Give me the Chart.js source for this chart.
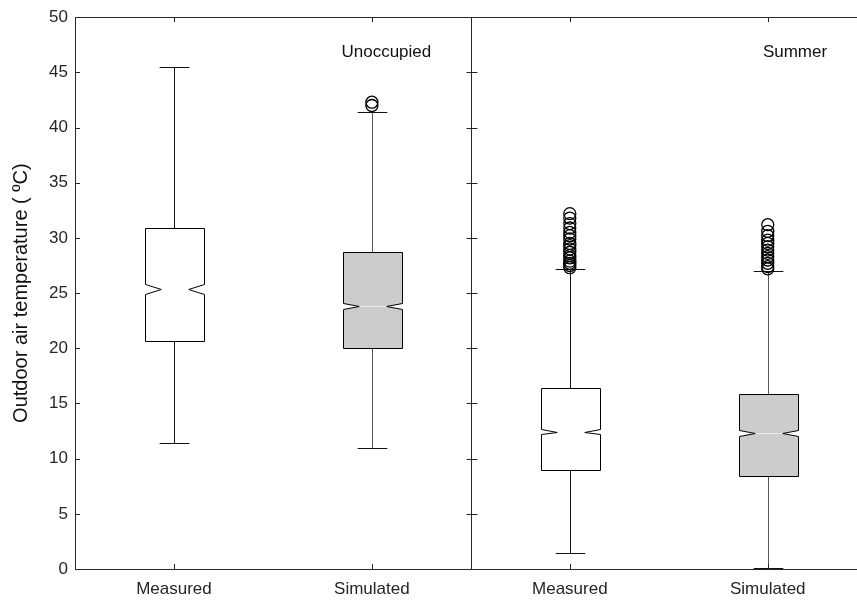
<!DOCTYPE html>
<html>
<head>
<meta charset="utf-8">
<script src="https://cdn.jsdelivr.net/npm/chart.js@4.4.1/dist/chart.umd.min.js"></script>
<style>
html,body{margin:0;padding:0;background:#fff;overflow:hidden}
#wrap{width:874px;height:602px}
</style>
</head>
<body>
<div id="wrap"><canvas id="graph" width="874" height="602"></canvas></div>
<script>
// box plot values (deg C)
const categories = ['Measured', 'Simulated', 'Measured', 'Simulated'];
const panelNames = ['Unoccupied', 'Summer'];
const whiskerLow  = [11.4, 11.0, 1.45, 0.1];
const q1          = [20.7, 20.0, 9.0, 8.4];
const median      = [25.4, 23.8, 12.45, 12.3];
const q3          = [30.9, 28.7, 16.4, 15.9];
const whiskerHigh = [45.5, 41.4, 27.2, 27.0];
const notchLow    = [24.95, 23.55, 12.2, 12.05];
const notchHigh   = [25.85, 24.1, 12.7, 12.6];
const outliers = [
    [],
    [42.0, 42.3],
    [27.3, 27.5, 27.7, 27.9, 28.2, 28.4, 28.7, 29.0, 29.3, 29.5, 29.9, 30.2, 30.5, 30.9, 31.3, 31.8, 32.2],
    [27.2, 27.4, 27.7, 28.0, 28.3, 28.6, 28.9, 29.2, 29.5, 29.8, 30.2, 30.6, 31.2]
];
const yTicks = [0, 5, 10, 15, 20, 25, 30, 35, 40, 45, 50];

// styles
const boxFill = ['#ffffff', '#cccccc', '#ffffff', '#cccccc'];
const axisColor = '#262626';
const BOX_W = 0.30, NOTCH_IN = 0.08, CAP_W = 0.15;
const FONT = '"Liberation Sans", Arial, Helvetica, sans-serif';

let outlierPts = [];
outliers.forEach((arr, i) => arr.forEach(v => outlierPts.push({x: i + 0.5, y: v})));

const crisp = v => Math.round(v) + 0.5;

const boxPlugin = {
    id: 'boxes',
    beforeDatasetsDraw(chart) {
        const ctx = chart.ctx, xs = chart.scales.x, ys = chart.scales.y;
        const unit = xs.getPixelForValue(1) - xs.getPixelForValue(0);
        ctx.save();
        for (let i = 0; i < categories.length; i++) {
            const cx = crisp(xs.getPixelForValue(i + 0.5));
            const L = Math.round(cx - unit * BOX_W / 2) + 0.5;
            const R = Math.round(cx + unit * BOX_W / 2) + 0.5;
            const n = unit * NOTCH_IN;
            const cap = unit * CAP_W / 2;
            const py = v => crisp(ys.getPixelForValue(v));

            // whiskers
            ctx.strokeStyle = i % 2 ? '#555' : '#111';
            ctx.lineWidth = 1;
            ctx.beginPath();
            ctx.moveTo(cx, py(whiskerLow[i])); ctx.lineTo(cx, py(q1[i]));
            ctx.moveTo(cx, py(q3[i])); ctx.lineTo(cx, py(whiskerHigh[i]));
            ctx.stroke();
            ctx.strokeStyle = '#111';
            ctx.lineWidth = 1.2;
            ctx.beginPath();
            ctx.moveTo(cx - cap, py(whiskerLow[i])); ctx.lineTo(cx + cap, py(whiskerLow[i]));
            ctx.moveTo(cx - cap, py(whiskerHigh[i])); ctx.lineTo(cx + cap, py(whiskerHigh[i]));
            ctx.stroke();

            // notched box
            ctx.lineWidth = 1;
            ctx.beginPath();
            ctx.moveTo(L, py(q3[i]));
            ctx.lineTo(R, py(q3[i]));
            ctx.lineTo(R, py(notchHigh[i]));
            ctx.lineTo(R - n, py(median[i]));
            ctx.lineTo(R, py(notchLow[i]));
            ctx.lineTo(R, py(q1[i]));
            ctx.lineTo(L, py(q1[i]));
            ctx.lineTo(L, py(notchLow[i]));
            ctx.lineTo(L + n, py(median[i]));
            ctx.lineTo(L, py(notchHigh[i]));
            ctx.closePath();
            ctx.fillStyle = boxFill[i];
            ctx.fill();
            ctx.strokeStyle = '#000';
            ctx.stroke();

            // faint median line
            ctx.strokeStyle = 'rgba(255,255,255,0.55)';
            ctx.beginPath();
            ctx.moveTo(L + n, py(median[i])); ctx.lineTo(R - n, py(median[i]));
            ctx.stroke();
        }
        ctx.restore();
    },
    afterDraw(chart) {
        const ctx = chart.ctx, xs = chart.scales.x, ys = chart.scales.y;
        const a = chart.chartArea;
        const mid = crisp(xs.getPixelForValue(2));
        ctx.save();
        ctx.strokeStyle = axisColor;
        ctx.lineWidth = 1;
        ctx.beginPath();
        // top border and panel divider
        ctx.moveTo(a.left, crisp(a.top)); ctx.lineTo(a.right, crisp(a.top));
        ctx.moveTo(mid, a.top); ctx.lineTo(mid, a.bottom);
        // inward tick marks
        yTicks.forEach(v => {
            const y = crisp(ys.getPixelForValue(v));
            ctx.moveTo(a.left, y); ctx.lineTo(a.left + 5, y);
            ctx.moveTo(mid - 5, y); ctx.lineTo(mid + 6, y);
        });
        categories.forEach((c, i) => {
            const x = crisp(xs.getPixelForValue(i + 0.5));
            ctx.moveTo(x, a.top); ctx.lineTo(x, a.top + 5);
            ctx.moveTo(x, a.bottom); ctx.lineTo(x, a.bottom - 5);
        });
        ctx.stroke();

        // panel names
        ctx.fillStyle = '#111';
        ctx.font = '17px ' + FONT;
        ctx.textAlign = 'right';
        ctx.textBaseline = 'middle';
        panelNames.forEach((t, k) => {
            ctx.fillText(t, xs.getPixelForValue(2 * k + 1.8), ys.getPixelForValue(46.8));
        });
        ctx.restore();
    }
};

const ctx = document.getElementById('graph');
new Chart(ctx, {
    type: 'scatter',
    data: {
        datasets: [{
            data: outlierPts,
            pointRadius: 6,
            pointHoverRadius: 6,
            pointBackgroundColor: 'rgba(0,0,0,0)',
            pointBorderColor: '#000',
            pointBorderWidth: 1.3
        }]
    },
    options: {
        responsive: false,
        animation: false,
        events: [],
        layout: {padding: {top: 15, left: 0, right: 0, bottom: 0}},
        plugins: {legend: {display: false}, tooltip: {enabled: false}},
        scales: {
            x: {
                type: 'linear',
                min: 0,
                max: 4,
                afterBuildTicks: s => { s.ticks = categories.map((c, i) => ({value: i + 0.5})); },
                afterFit: s => { s.height = 33; },
                grid: {display: false, drawTicks: false},
                border: {display: true, color: axisColor, width: 1},
                ticks: {
                    autoSkip: false,
                    maxRotation: 0,
                    padding: 10,
                    color: '#262626',
                    font: {family: FONT, size: 17},
                    callback: v => categories[Math.floor(v)]
                }
            },
            y: {
                min: 0,
                max: 50,
                afterBuildTicks: s => { s.ticks = yTicks.map(v => ({value: v})); },
                afterFit: s => { s.width = 75; },
                grid: {display: false, drawTicks: false},
                border: {display: true, color: axisColor, width: 1},
                ticks: {
                    padding: 7,
                    color: '#262626',
                    font: {family: FONT, size: 17}
                },
                title: {
                    display: true,
                    text: 'Outdoor air temperature ( ºC)',
                    color: '#111',
                    font: {family: FONT, size: 20},
                    padding: {top: 9, bottom: 0}
                }
            }
        }
    },
    plugins: [boxPlugin]
});
</script>
</body>
</html>
